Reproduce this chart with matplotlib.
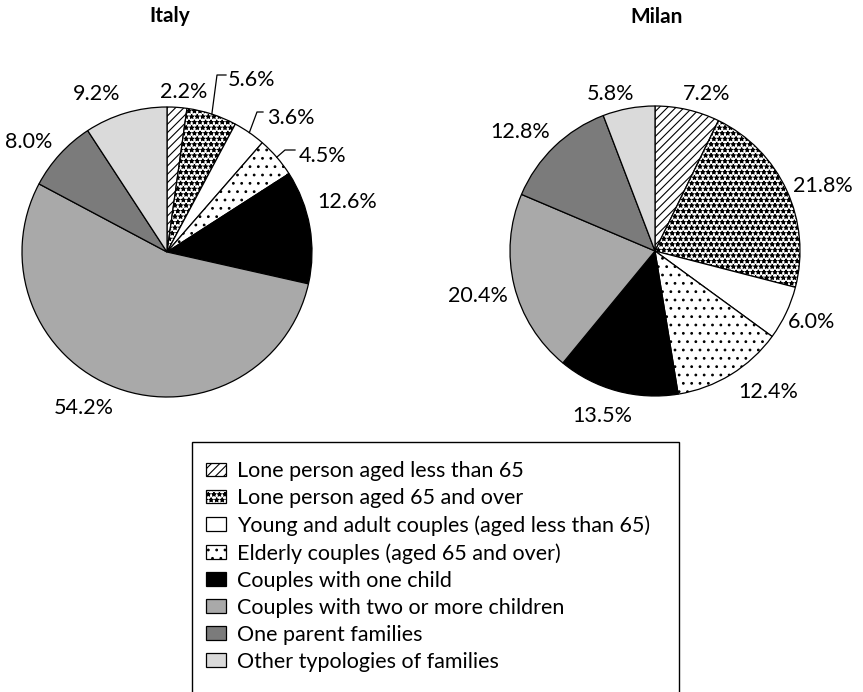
import matplotlib.pyplot as plt
from matplotlib.patches import Rectangle
import numpy as np

plt.rcParams['font.family'] = ['Lato', 'DejaVu Sans']
plt.rcParams['hatch.linewidth'] = 0.8

# family types
categories = ['Lone person aged less than 65',
              'Lone person aged 65 and over',
              'Young and adult couples (aged less than 65)',
              'Elderly couples (aged 65 and over)',
              'Couples with one child',
              'Couples with two or more children',
              'One parent families',
              'Other typologies of families']
italy = [2.2, 5.6, 3.6, 4.5, 12.6, 54.2, 8.0, 9.2]
milan = [7.2, 21.8, 6.0, 12.4, 13.5, 20.4, 12.8, 5.8]

colors = ['white', 'white', 'white', 'white', 'black', '#a9a9a9', '#7b7b7b', '#dadada']
hatches = ['////', '***', '', '..', '', '', '', '']

H = 692
fig = plt.figure(figsize=(8.63, 6.92), dpi=100)
ax = fig.add_axes([0, 0, 1, 1])

def Y(y):
    return H - y  # picture row -> axes y

c_it = (167, Y(252))
c_mi = (655, Y(251))
r = 145

wp = dict(edgecolor='black', linewidth=0.9)
w_it, _ = ax.pie(italy, colors=colors, hatch=hatches, startangle=90, counterclock=False,
                 center=c_it, radius=r, wedgeprops=wp, frame=True)
w_mi, _ = ax.pie(milan, colors=colors, hatch=hatches, startangle=90, counterclock=False,
                 center=c_mi, radius=r, wedgeprops=wp, frame=True)

# label layout: offset of label from pie centre (x right, y up), ha
it_lab = [(17, 162, 'center'), (61, 173, 'left'), (100, 135, 'left'), (132, 97, 'left'),
          (180, 52, 'center'), (-83, -154, 'center'), (-138, 112, 'center'), (-70, 159, 'center')]
mi_lab = [(52, 159), (168, 66), (157, -70), (113, -139),
          (-53, -164), (-177, -44), (-135, 120), (-44, 158)]
# leader lines for the small italian slices: elbow, end
it_lead = {1: ((50, 177), (59, 177)), 2: ((90, 140), (96, 140)), 3: ((118, 102), (128, 102))}

fs = 15.5
for i, v in enumerate(italy):
    dx, dy, ha = it_lab[i]
    ax.text(c_it[0] + dx, c_it[1] + dy - 7.5, '%.1f%%' % v, ha=ha, va='baseline', fontsize=fs)
    if i in it_lead:
        w = w_it[i]
        mid = np.deg2rad((w.theta1 + w.theta2) / 2)
        ex = c_it[0] + r * np.cos(mid)
        ey = c_it[1] + r * np.sin(mid)
        (bx, by), (tx, ty) = it_lead[i]
        ax.plot([ex, c_it[0] + bx, c_it[0] + tx], [ey, c_it[1] + by, c_it[1] + ty],
                color='black', lw=0.9)

for i, v in enumerate(milan):
    dx, dy = mi_lab[i]
    ax.text(c_mi[0] + dx, c_mi[1] + dy - 7.5, '%.1f%%' % v, ha='center', va='baseline', fontsize=fs)

ax.text(170, Y(16), 'Italy', ha='center', va='center', fontsize=15, fontweight='bold')
ax.text(657, Y(17), 'Milan', ha='center', va='center', fontsize=15, fontweight='bold')

ax.legend(w_it, categories, loc='upper left', bbox_to_anchor=(206, Y(461)),
          bbox_transform=ax.transData, frameon=False, fontsize=fs,
          handlelength=0.95, handleheight=0.6, handletextpad=0.5,
          labelspacing=0.33, borderpad=0, borderaxespad=0)
ax.add_patch(Rectangle((192, Y(705)), 679 - 192, 705 - 442, fill=False,
                       edgecolor='black', lw=1.0, clip_on=False))

ax.set_xlim(0, 863)
ax.set_ylim(0, H)
ax.set_aspect('equal')
ax.axis('off')

plt.savefig('out.png', dpi=100)
